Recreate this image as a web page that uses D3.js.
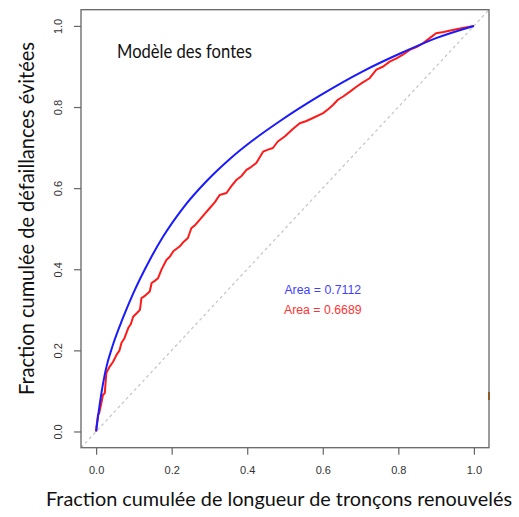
<!DOCTYPE html>
<html>
<head>
<meta charset="utf-8">
<script src="https://cdn.jsdelivr.net/npm/d3@7"></script>
<style>
  body { margin: 0; background: #fff; }
  svg { display: block; }
  .tick text { font-family: "Liberation Sans", Arial, sans-serif; font-size: 11px; fill: #333; }
  .tick line { stroke: #666; stroke-width: 1.2; }
  .title { font-family: Lato, "Open Sans", sans-serif; fill: #111; }
</style>
</head>
<body>
<div class="chart"></div>
<script>
// smooth model curve (blue)
var modelX = [0, 0.01, 0.025, 0.045, 0.071, 0.098, 0.142, 0.177, 0.23, 0.292, 0.354, 0.415, 0.486, 0.592, 0.706, 0.812, 0.90, 1];
var modelY = [0, 0.07, 0.15, 0.215, 0.280, 0.340, 0.423, 0.480, 0.551, 0.617, 0.672, 0.718, 0.765, 0.828, 0.888, 0.935, 0.970, 1];

// observed curve (red)
var obsX = [0, 0.001, 0.005, 0.008, 0.014, 0.018, 0.023, 0.027, 0.036, 0.045, 0.054, 0.062, 0.067, 0.075, 0.085, 0.092, 0.098, 0.108, 0.116, 0.12, 0.13, 0.142, 0.147, 0.156, 0.164, 0.173, 0.186, 0.195, 0.205, 0.221, 0.232, 0.243, 0.252, 0.263, 0.274, 0.288, 0.301, 0.314, 0.327, 0.345, 0.358, 0.371, 0.385, 0.398, 0.41, 0.424, 0.442, 0.455, 0.468, 0.481, 0.50, 0.52, 0.539, 0.555, 0.574, 0.601, 0.615, 0.627, 0.64, 0.654, 0.672, 0.689, 0.705, 0.724, 0.742, 0.76, 0.777, 0.795, 0.812, 0.83, 0.848, 0.865, 0.883, 0.90, 0.92, 0.944, 0.97, 1];
var obsY = [0, 0.012, 0.041, 0.045, 0.07, 0.09, 0.095, 0.144, 0.16, 0.172, 0.189, 0.2, 0.218, 0.23, 0.255, 0.265, 0.283, 0.292, 0.30, 0.329, 0.335, 0.345, 0.366, 0.372, 0.378, 0.399, 0.423, 0.431, 0.445, 0.456, 0.468, 0.477, 0.501, 0.51, 0.522, 0.537, 0.551, 0.565, 0.583, 0.588, 0.605, 0.62, 0.63, 0.645, 0.652, 0.662, 0.69, 0.695, 0.699, 0.715, 0.728, 0.745, 0.76, 0.765, 0.773, 0.785, 0.795, 0.805, 0.818, 0.826, 0.838, 0.85, 0.86, 0.871, 0.892, 0.9, 0.912, 0.92, 0.929, 0.941, 0.948, 0.957, 0.97, 0.982, 0.985, 0.99, 0.995, 1];

var tickValues = [0, 0.2, 0.4, 0.6, 0.8, 1.0];
var areaLabels = ['Area = 0.7112', 'Area = 0.6689'];
var areaY = [0.35, 0.30];
var areaColors = ['#3f3fff', '#ff3333'];

var svgWidth = 519;
var svgHeight = 517;
var box = { left: 81, right: 489, top: 9.7, bottom: 447.7 };

var svg = d3.select('.chart')
  .append('svg')
  .attr('width', svgWidth)
  .attr('height', svgHeight);

var x = d3.scaleLinear().domain([-0.04, 1.04]).range([box.left, box.right]);
var y = d3.scaleLinear().domain([-0.04, 1.04]).range([box.bottom, box.top]);

svg.append('clipPath').attr('id', 'clip')
  .append('rect')
  .attr('x', box.left).attr('y', box.top)
  .attr('width', box.right - box.left).attr('height', box.bottom - box.top);

// diagonal reference line
svg.append('line')
  .attr('clip-path', 'url(#clip)')
  .attr('x1', x(-0.04)).attr('y1', y(-0.04))
  .attr('x2', x(1.04)).attr('y2', y(1.04))
  .attr('stroke', '#c4c4c4')
  .attr('stroke-width', 1.2)
  .attr('stroke-dasharray', '3,3');

var model = modelX.map(function(d, i) { return [d, modelY[i]]; });
var obs = obsX.map(function(d, i) { return [d, obsY[i]]; });

var smooth = d3.line()
  .x(function(d) { return x(d[0]); })
  .y(function(d) { return y(d[1]); })
  .curve(d3.curveMonotoneX);

var straight = d3.line()
  .x(function(d) { return x(d[0]); })
  .y(function(d) { return y(d[1]); });

svg.append('path')
  .datum(obs)
  .attr('d', straight)
  .attr('fill', 'none')
  .attr('stroke', '#ff1a1a')
  .attr('stroke-width', 2)
  .attr('stroke-linejoin', 'round');

svg.append('path')
  .datum(model)
  .attr('d', smooth)
  .attr('fill', 'none')
  .attr('stroke', '#1a1aff')
  .attr('stroke-width', 2);

// axes
var bottom = d3.axisBottom(x).tickValues(tickValues).tickSize(7).tickPadding(12).tickFormat(d3.format('.1f'));
var left = d3.axisLeft(y).tickValues(tickValues).tickSize(7).tickFormat(d3.format('.1f'));

var gx = svg.append('g')
  .attr('transform', 'translate(0,' + box.bottom + ')')
  .call(bottom);
gx.select('.domain').remove();

var gy = svg.append('g')
  .attr('transform', 'translate(' + box.left + ',0)')
  .call(left);
gy.select('.domain').remove();
gy.selectAll('.tick text')
  .attr('x', 0)
  .attr('y', -23)
  .attr('dy', '0.35em')
  .attr('text-anchor', 'middle')
  .attr('transform', 'rotate(-90)');

// box
svg.append('rect')
  .attr('x', box.left).attr('y', box.top)
  .attr('width', box.right - box.left).attr('height', box.bottom - box.top)
  .attr('fill', 'none')
  .attr('stroke', '#666')
  .attr('stroke-width', 1.3);

// area labels
svg.selectAll('.area_text')
  .data(areaLabels)
  .enter()
  .append('text')
  .attr('class', 'area_text')
  .attr('x', x(0.6))
  .attr('y', function(d, i) { return y(areaY[i]); })
  .attr('dy', '0.35em')
  .attr('text-anchor', 'middle')
  .style('font-family', '"Liberation Sans", Arial, sans-serif')
  .style('font-size', '12.3px')
  .attr('fill', function(d, i) { return areaColors[i]; })
  .text(function(d) { return d; });

// titles
svg.append('text')
  .attr('class', 'title')
  .attr('x', 117)
  .attr('y', 58)
  .style('font-size', '19.5px')
  .attr('textLength', 135)
  .attr('lengthAdjust', 'spacingAndGlyphs')
  .text('Modèle des fontes');

svg.append('text')
  .attr('class', 'title')
  .attr('x', 279)
  .attr('y', 506)
  .attr('text-anchor', 'middle')
  .style('font-size', '20px')
  .attr('textLength', 466)
  .attr('lengthAdjust', 'spacingAndGlyphs')
  .text('Fraction cumulée de longueur de tronçons renouvelés');

svg.append('text')
  .attr('class', 'title')
  .attr('transform', 'translate(34,218.5) rotate(-90)')
  .attr('text-anchor', 'middle')
  .style('font-size', '21px')
  .attr('textLength', 353)
  .attr('lengthAdjust', 'spacingAndGlyphs')
  .text('Fraction cumulée de défaillances évitées');

// small stray mark on the right border
svg.append('rect')
  .attr('x', box.right - 1).attr('y', 392)
  .attr('width', 2).attr('height', 8)
  .attr('fill', '#8b5a2b');
</script>
</body>
</html>
